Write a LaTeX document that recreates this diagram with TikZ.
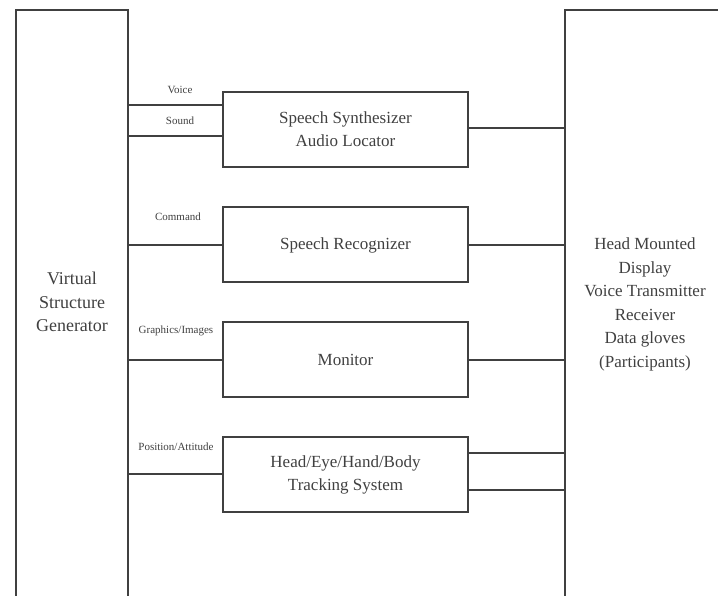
\documentclass[tikz,border=0pt]{standalone}
\usepackage{fontspec}
\setmainfont{Liberation Serif}
\begin{document}
\begin{tikzpicture}[x=1pt,y=1pt,
  line width=2pt,
  every node/.style={text=black!75},
  frame/.style={draw=black!75,rectangle,inner sep=0pt},
  blockbox/.style={draw=black!75,rectangle,minimum width=245pt,minimum height=75pt,align=center,font=\fontsize{17}{23}\selectfont},
  bigtext/.style={align=center,font=\fontsize{17}{23.6}\selectfont},
  sig/.style={font=\fontsize{11}{12}\selectfont,inner sep=1pt},
  wire/.style={draw=black!75}]
\useasboundingbox (0,0) rectangle (718,595);
\clip (0,0) rectangle (718,595);
% big side blocks
\node[frame,minimum width=112pt,minimum height=605pt] (vsg) at (72,282.5) {};
\node[frame,minimum width=175pt,minimum height=605pt] (hmd) at (652.5,282.5) {};
\node[bigtext,font=\fontsize{18}{23.3}\selectfont] (vsgt) at (72,293) {Virtual\\Structure\\Generator};
\node[bigtext] (hmdt) at (645,290.5) {Head Mounted\\Display\\Voice Transmitter\\Receiver\\Data gloves\\(Participants)};
% middle blocks
\node[blockbox] (ss) at (345.5,465.5) {Speech Synthesizer\\Audio Locator};
\node[blockbox] (sr) at (345.5,350) {Speech Recognizer};
\node[blockbox] (mon) at (345.5,235) {Monitor};
\node[blockbox] (trk) at (345.5,120.5) {Head/Eye/Hand/Body\\Tracking System};
% connection points
\coordinate (ssv) at ([yshift=24.5pt]ss.west);
\coordinate (sss) at ([yshift=-6.5pt]ss.west);
\coordinate (ssr) at ([yshift=1.5pt]ss.east);
\coordinate (trka) at ([yshift=21.5pt]trk.east);
\coordinate (trkb) at ([yshift=-15.5pt]trk.east);
% wires
\draw[wire] (vsg.east |- ssv) -- (ssv);
\draw[wire] (vsg.east |- sss) -- (sss);
\draw[wire] (ssr) -- (hmd.west |- ssr);
\draw[wire] (vsg.east |- sr.west) -- (sr.west);
\draw[wire] (sr.east) -- (hmd.west |- sr.east);
\draw[wire] (vsg.east |- mon.west) -- (mon.west);
\draw[wire] (mon.east) -- (hmd.west |- mon.east);
\draw[wire] (vsg.east |- trk.west) -- (trk.west);
\draw[wire] (trka) -- (hmd.west |- trka);
\draw[wire] (trkb) -- (hmd.west |- trkb);
% signal labels
\node[sig] (lv) at (180,505) {Voice};
\node[sig] (ls) at (180,474) {Sound};
\node[sig] (lc) at (178,378) {Command};
\node[sig] (lg) at (176,264) {Graphics/Images};
\node[sig] (lp) at (176,148) {Position/Attitude};
\end{tikzpicture}
\end{document}
